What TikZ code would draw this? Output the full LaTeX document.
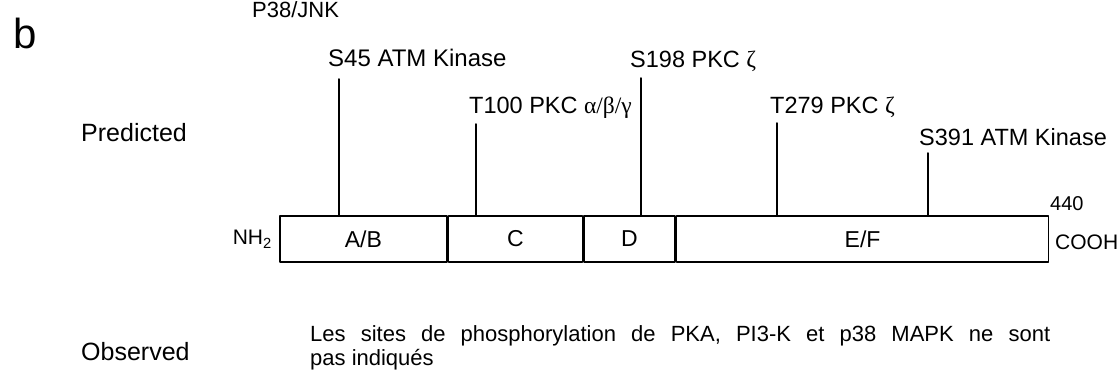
\documentclass[tikz,border=0pt]{standalone}
\usepackage{fontspec}
\setmainfont{Liberation Sans}
\newfontfamily\greekfont{Liberation Serif}
\usetikzlibrary{positioning}
\begin{document}
\begin{tikzpicture}[x=1pt,y=-1pt,line join=round,line cap=round,font=\fontsize{23.5}{27}\selectfont]
	\tikzset{lab/.style={inner sep=0pt,anchor=base west},
		dom/.style={draw,line width=1.6pt,minimum height=46pt,inner sep=0pt,anchor=north west,font=\fontsize{23}{26}\selectfont},
		site/.style={line width=1.5pt}}
	\useasboundingbox (0,0) rectangle (1120,374);
	% domains
	\node[dom,minimum width=167pt] (ab) at (279,215) {A/B};
	\node[dom,minimum width=134pt,right=0pt of ab] (c) {C};
	\node[dom,minimum width=91pt,right=0pt of c] (d) {D};
	\node[dom,minimum width=372pt,right=0pt of d] (ef) {E/F};
	\node[inner sep=0pt,anchor=base east,font=\fontsize{21}{24}\selectfont] (nh) at (272,245) {NH\textsubscript{2}};
	\node[lab,font=\fontsize{21}{24}\selectfont] (cooh) at (1055,250) {COOH};
	\node[lab,font=\fontsize{20}{24}\selectfont] (end) at (1050,211) {440};
	% labels
	\node[lab,font=\fontsize{42}{44}\selectfont] (b) at (13,49) {b};
	\node[lab,font=\fontsize{22}{26}\selectfont] (p38) at (252,18) {P38/JNK};
	\node[lab,font=\fontsize{25}{28}\selectfont] (pred) at (81,142) {Predicted};
	\node[lab,font=\fontsize{25}{28}\selectfont] (obs) at (81,360) {Observed};
	\node[lab,font=\fontsize{24}{27}\selectfont] (s45) at (328,67) {S45 ATM Kinase};
	\node[lab] (t100) at (469,114) {T100 PKC {\greekfont α/β/γ}};
	\node[lab] (s198) at (630,68) {S198 PKC {\greekfont ζ}};
	\node[lab] (t279) at (770,114) {T279 PKC {\greekfont ζ}};
	\node[lab] (s391) at (919,146) {S391 ATM Kinase};
	\node[inner sep=0pt,anchor=base west,align=left,
		font=\fontsize{22}{24}\selectfont] (note) at (310,365)
		{\makebox[740pt][s]{Les sites de phosphorylation de PKA, PI3-K et p38 MAPK ne sont}\\pas indiqués};
	% sites
	\coordinate (p45) at (339,79);
	\coordinate (p100) at (476,124);
	\coordinate (p198) at (641,78);
	\coordinate (p279) at (777,123);
	\coordinate (p391) at (928,153);
	\foreach \p in {p45,p100,p198,p279,p391}
		\draw[site] (\p) -- (\p |- ab.north);
\end{tikzpicture}
\end{document}
